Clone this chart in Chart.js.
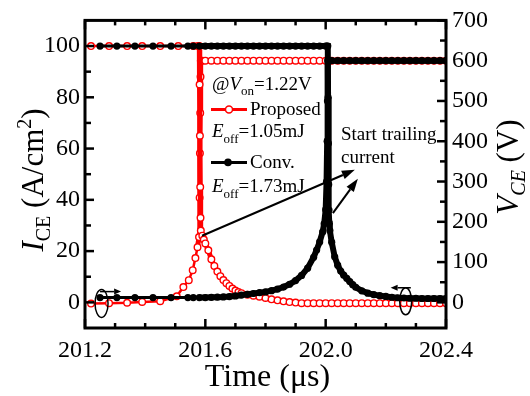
<!DOCTYPE html>
<html><head><meta charset="utf-8">
<script src="https://cdn.jsdelivr.net/npm/chart.js@4/dist/chart.umd.min.js"></script>
<style>html,body{margin:0;padding:0;background:#fff;}canvas{display:block;}</style>
</head><body>
<canvas id="c" width="530" height="396"></canvas>
<script>
// ---------------- data ----------------
// Proposed: collector current (A/cm2)
const propI_t = [201.22,201.28,201.34,201.39,201.45,201.51,201.56,201.575,201.580,
  201.581,201.582,201.583,201.584,201.585,201.590,201.595,201.600,
  201.61,201.62,201.63,201.64,201.65,201.66,201.67,201.68,201.69,201.70,201.71,201.72,
  201.74,201.76,201.78,201.80,201.82,201.84,201.86,201.88,201.90,
  201.92,201.94,201.96,201.98,202.00,202.02,202.04,202.06,202.08,202.10,202.12,202.14,202.16,
  202.18,202.20,202.22,202.24,202.26,202.28,202.30,202.32,202.34,202.36,202.38,202.40];
const propI_v = [100,100,100,100,100,100,100,100,100,
  85,65,45,33,28,26,24.5,23,
  20.3,16.8,14.2,12.0,10.2,8.7,7.5,6.4,5.4,4.6,4.0,3.6,
  3.0,2.6,2.2,1.7,1.2,0.8,0.4,0.1,-0.1,
  -0.3,-0.3,-0.3,-0.3,-0.3,-0.3,-0.3,-0.3,-0.3,-0.3,-0.3,-0.3,-0.3,
  -0.3,-0.3,-0.3,-0.3,-0.3,-0.3,-0.3,-0.3,-0.3,-0.3,-0.3,-0.3];
// Proposed: collector-emitter voltage (V)
const propV_t = [201.22,201.28,201.34,201.39,201.45,201.505,201.527,201.545,201.558,201.567,201.574,201.579,
  201.581,201.582,201.583,201.584,201.585,201.59,201.60,
  201.62,201.64,201.66,201.68,201.70,201.72,201.74,201.76,201.78,201.80,
  201.82,201.84,201.86,201.88,201.90,201.92,201.94,201.96,201.98,202.00,
  202.02,202.04,202.06,202.08,202.10,202.12,202.14,202.16,202.18,202.20,
  202.22,202.24,202.26,202.28,202.30,202.32,202.34,202.36,202.38,202.40];
const propV_v = [-3,-2,-1,1,3,15,38,55,80,110,137,162,
  260,370,470,560,600,600,600,
  600,600,600,600,600,600,600,600,600,600,
  600,600,600,600,600,600,600,600,600,600,
  600,600,600,600,600,600,600,600,600,600,
  600,600,600,600,600,600,600,600,600,600];
// Conventional: collector current (A/cm2)
const convI_t = [201.25,201.306,201.366,201.426,201.486,201.542,201.56,201.58,
  201.60,201.62,201.64,201.66,201.68,201.70,201.72,201.74,201.76,201.78,201.80,
  201.82,201.84,201.86,201.88,201.90,201.92,201.94,201.96,201.98,202.00,
  202.004,202.007,202.008,202.009,202.010,202.011,202.012,202.014,202.02,
  202.03,202.04,202.05,202.06,202.07,202.08,202.09,202.10,
  202.12,202.14,202.16,202.18,202.20,202.22,202.24,202.26,202.28,202.30,202.32,202.34,202.36,202.38,202.40];
const convI_v = [100,100,100,100,100,100,100,100,
  100,100,100,100,100,100,100,100,100,100,100,
  100,100,100,100,100,100,100,100,100,100,
  100,100,80,62,46,36,31,28,23.5,
  17.8,14.5,12.2,10.6,9.4,8.1,6.9,5.9,
  4.5,3.6,3.0,2.6,2.3,2.0,1.8,1.7,1.6,1.6,1.5,1.5,1.5,1.5,1.5];
// Conventional: collector-emitter voltage (V)
const convV_t = [201.25,201.306,201.366,201.426,201.486,201.542,201.56,201.58,
  201.60,201.62,201.64,201.66,201.68,201.70,201.72,201.74,201.76,201.78,
  201.80,201.82,201.84,201.86,201.88,201.90,201.92,201.94,201.96,
  201.97,201.98,201.99,201.995,202.000,202.003,202.005,202.006,202.007,202.01,
  202.02,202.04,202.06,202.08,202.10,202.12,202.14,202.16,202.18,202.20,
  202.22,202.24,202.26,202.28,202.30,202.32,202.34,202.36,202.38,202.40];
const convV_v = [12,12,12,12,12,12,12,12,
  12,12.5,13,13.5,14.5,16,18,20,22,24,
  26,29,33,38,45,54,67,85,112,
  130,150,175,195,230,300,400,500,600,600,
  600,600,600,600,600,600,600,600,600,600,
  600,600,600,600,600,600,600,600,600,600];

// ticks
const xMajor = [201.2, 201.6, 202.0, 202.4];
const xMinor = [201.3, 201.4, 201.5, 201.7, 201.8, 201.9, 202.1, 202.2, 202.3];
const yMajor = [0, 20, 40, 60, 80, 100];
const yMinor = [10, 30, 50, 70, 90];
const y2Major = [0, 100, 200, 300, 400, 500, 600, 700];
const y2Minor = [50, 150, 250, 350, 450, 550, 650];

const FAM = 'Liberation Serif';
const SERIF = '"Liberation Serif", serif';
const RED = '#ff0000';
const pts = (t, v) => t.map((x, i) => ({x: x, y: v[i]}));
Chart.defaults.font.family = FAM;

function rich(ctx, segs, x, y, align) {
  let w = 0;
  segs.forEach(s => { ctx.font = s.f; w += ctx.measureText(s.t).width; });
  let cx = align === 'center' ? x - w / 2 : x;
  segs.forEach(s => { ctx.font = s.f; ctx.fillText(s.t, cx, y + (s.dy || 0)); cx += ctx.measureText(s.t).width; });
}
function arrow(ctx, x1, y1, x2, y2, len, hw) {
  const ang = Math.atan2(y2 - y1, x2 - x1);
  const bx = x2 - len * Math.cos(ang), by = y2 - len * Math.sin(ang);
  ctx.beginPath(); ctx.moveTo(x1, y1); ctx.lineTo(bx, by); ctx.stroke();
  ctx.beginPath(); ctx.moveTo(x2, y2);
  ctx.lineTo(bx + hw * Math.sin(ang), by - hw * Math.cos(ang));
  ctx.lineTo(bx - hw * Math.sin(ang), by + hw * Math.cos(ang));
  ctx.closePath(); ctx.fill();
}

const deco = {
  id: 'deco',
  afterDraw(chart) {
    const {ctx, chartArea: a, scales: {x, y, y2}} = chart;
    ctx.save();
    ctx.strokeStyle = '#000'; ctx.fillStyle = '#000';
    ctx.lineWidth = 3;
    ctx.strokeRect(a.left, a.top, a.right - a.left, a.bottom - a.top);
    ctx.lineWidth = 2.5;
    const seg = (x1, y1, x2, y2) => { ctx.beginPath(); ctx.moveTo(x1, y1); ctx.lineTo(x2, y2); ctx.stroke(); };
    xMajor.forEach(v => { const p = x.getPixelForValue(v); seg(p, a.bottom, p, a.bottom - 9); seg(p, a.top, p, a.top + 9); });
    xMinor.forEach(v => { const p = x.getPixelForValue(v); seg(p, a.bottom, p, a.bottom - 5); seg(p, a.top, p, a.top + 5); });
    yMajor.forEach(v => { const p = y.getPixelForValue(v); seg(a.left, p, a.left + 9, p); });
    yMinor.forEach(v => { const p = y.getPixelForValue(v); seg(a.left, p, a.left + 6, p); });
    y2Major.forEach(v => { const p = y2.getPixelForValue(v); seg(a.right, p, a.right - 9, p); });
    y2Minor.forEach(v => { const p = y2.getPixelForValue(v); seg(a.right, p, a.right - 6, p); });

    ctx.textBaseline = 'alphabetic'; ctx.textAlign = 'left';
    rich(ctx, [{t: 'Time (\u03bcs)', f: '32px ' + SERIF}], (a.left + a.right) / 2 + 2, 386, 'center');
    ctx.save(); ctx.translate(43, 180); ctx.rotate(-Math.PI / 2);
    rich(ctx, [
      {t: 'I', f: 'italic 31px ' + SERIF},
      {t: 'CE', f: '20px ' + SERIF, dy: 7},
      {t: ' (A/cm', f: '31px ' + SERIF},
      {t: '2', f: '20px ' + SERIF, dy: -12},
      {t: ')', f: '31px ' + SERIF}], 0, 0, 'center');
    ctx.restore();
    ctx.save(); ctx.translate(518, 167); ctx.rotate(-Math.PI / 2);
    rich(ctx, [
      {t: 'V', f: 'italic 31px ' + SERIF},
      {t: 'CE', f: 'italic 20px ' + SERIF, dy: 7},
      {t: ' (V)', f: '31px ' + SERIF}], 0, 0, 'center');
    ctx.restore();

    const lx = a.left + 127, F = '19px ' + SERIF, FI = 'italic 19px ' + SERIF, FS = '13px ' + SERIF;
    rich(ctx, [{t: '@', f: F}, {t: 'V', f: FI}, {t: 'on', f: FS, dy: 5}, {t: '=1.22V', f: F}], lx, a.top + 70, 'left');
    ctx.strokeStyle = RED; ctx.lineWidth = 3;
    seg(lx - 1, a.top + 89, lx + 35, a.top + 89);
    ctx.beginPath(); ctx.arc(lx + 17, a.top + 89, 3.5, 0, Math.PI * 2);
    ctx.fillStyle = '#fff'; ctx.fill(); ctx.lineWidth = 1.5; ctx.stroke();
    ctx.fillStyle = '#000'; ctx.strokeStyle = '#000';
    rich(ctx, [{t: 'Proposed', f: F}], lx + 38, a.top + 95, 'left');
    rich(ctx, [{t: 'E', f: FI}, {t: 'off', f: FS, dy: 6}, {t: '=1.05mJ', f: F}], lx, a.top + 117, 'left');
    ctx.lineWidth = 3;
    seg(lx - 1, a.top + 142, lx + 35, a.top + 142);
    ctx.beginPath(); ctx.arc(lx + 16, a.top + 142, 3.8, 0, Math.PI * 2); ctx.fill();
    rich(ctx, [{t: 'Conv.', f: F}], lx + 38, a.top + 148, 'left');
    rich(ctx, [{t: 'E', f: FI}, {t: 'off', f: FS, dy: 6}, {t: '=1.73mJ', f: F}], lx, a.top + 172, 'left');

    rich(ctx, [{t: 'Start trailing', f: F}], a.left + 256, a.top + 120, 'left');
    rich(ctx, [{t: 'current', f: F}], a.left + 256, a.top + 143, 'left');
    ctx.lineWidth = 2;
    const P = (t, v) => [x.getPixelForValue(t), y.getPixelForValue(v)];
    let p1 = P(201.589, 26.0), p2 = P(202.097, 51.7);
    arrow(ctx, p1[0], p1[1], p2[0], p2[1], 13, 4.5);
    p1 = P(202.024, 34.8); p2 = P(202.107, 48.2);
    arrow(ctx, p1[0], p1[1], p2[0], p2[1], 13, 4.5);

    ctx.lineWidth = 1.5;
    let c = P(201.255, -0.4);
    ctx.beginPath(); ctx.ellipse(c[0], c[1], 6.5, 14, 0, 0, Math.PI * 2); ctx.stroke();
    p1 = P(201.25, 4.2); p2 = P(201.32, 4.2);
    arrow(ctx, p1[0], p1[1], p2[0], p2[1], 7, 3);
    c = P(202.266, 0.4);
    ctx.beginPath(); ctx.ellipse(c[0], c[1], 6, 13.5, 0, 0, Math.PI * 2); ctx.stroke();
    p1 = P(202.283, 5.7); p2 = P(202.216, 5.7);
    arrow(ctx, p1[0], p1[1], p2[0], p2[1], 7, 3);
    ctx.restore();
  }
};

const denseWidth = (thin, thick) => ({borderWidth: c => (c.p0.parsed.x >= 201.57 ? thick : thin)});
const blackDs = (label, t, v, axis) => ({
  label, data: pts(t, v), yAxisID: axis, borderColor: '#000', backgroundColor: '#000',
  borderWidth: 3, segment: denseWidth(3, 6), pointRadius: 3.6, pointBorderWidth: 0,
  pointBackgroundColor: '#000', tension: 0
});
const redDs = (label, t, v, axis) => ({
  label, data: pts(t, v), yAxisID: axis, borderColor: RED, backgroundColor: RED,
  borderWidth: 2.5, segment: denseWidth(2.5, 5), pointRadius: 3.3, pointBorderWidth: 1.4,
  pointBorderColor: RED, pointBackgroundColor: '#fff', tension: 0
});

const tickFont = {family: FAM, size: 24};
new Chart(document.getElementById('c'), {
  type: 'line',
  data: {
    datasets: [
      blackDs('Conv. I', convI_t, convI_v, 'y'),
      blackDs('Conv. V', convV_t, convV_v, 'y2'),
      redDs('Proposed I', propI_t, propI_v, 'y'),
      redDs('Proposed V', propV_t, propV_v, 'y2')
    ]
  },
  options: {
    responsive: false, animation: false, devicePixelRatio: 1,
    layout: {padding: {top: 15, left: 0, right: 0, bottom: 0}},
    plugins: {legend: {display: false}, tooltip: {enabled: false}},
    scales: {
      x: {
        type: 'linear', min: 201.2, max: 202.4,
        grid: {display: false, drawTicks: false}, border: {display: false},
        afterBuildTicks: s => { s.ticks = xMajor.map(v => ({value: v})); },
        afterFit: s => { s.height = 68; },
        ticks: {font: tickFont, color: '#000', padding: 8, maxRotation: 0, autoSkip: false,
          callback: v => Number(v).toFixed(1)}
      },
      y: {
        position: 'left', min: -10, max: 110,
        grid: {display: false, drawTicks: false}, border: {display: false},
        afterBuildTicks: s => { s.ticks = yMajor.map(v => ({value: v})); },
        afterFit: s => { s.width = 85; },
        ticks: {font: tickFont, color: '#000', padding: 5, callback: v => String(v)}
      },
      y2: {
        position: 'right', min: -700 * 10 / 110, max: 700,
        grid: {display: false, drawTicks: false}, border: {display: false},
        afterBuildTicks: s => { s.ticks = y2Major.map(v => ({value: v})); },
        afterFit: s => { s.width = 84; },
        ticks: {font: tickFont, color: '#000', padding: 6, callback: v => String(v)}
      }
    }
  },
  plugins: [deco]
});
</script>
</body></html>
